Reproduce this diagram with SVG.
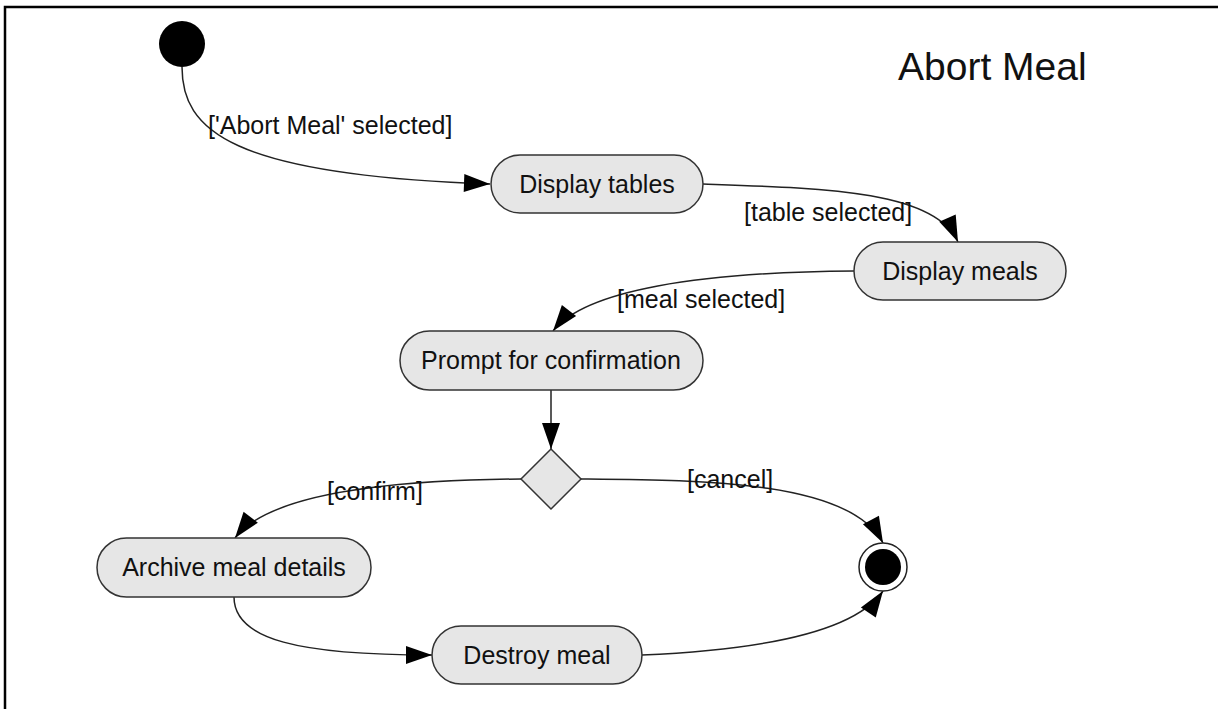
<svg xmlns="http://www.w3.org/2000/svg" width="1218" height="709" viewBox="0 0 1218 709">
<defs>
<style>
.node{fill:#e6e6e6;stroke:#333;stroke-width:1.5}
.lbl{font-family:"Liberation Sans",Arial,sans-serif;font-size:25px;fill:#111}
.ctr{text-anchor:middle}
.edge{fill:none;stroke:#222;stroke-width:1.5}
.title{font-family:"Liberation Sans",Arial,sans-serif;font-size:39px;fill:#111}
</style>
<marker id="arr" markerUnits="userSpaceOnUse" markerWidth="30" markerHeight="22" refX="0" refY="0" viewBox="-28 -11 30 22" orient="auto">
<path d="M0,0 L-26,-9 L-26,9 Z" fill="#000"/>
</marker>
</defs>
<rect width="1218" height="709" fill="#fff"/>
<path d="M5,709 V7 H1218" fill="none" stroke="#000" stroke-width="2.5"/>
<text class="title" x="898" y="80">Abort Meal</text>

<g id="connectors">
<path class="edge" marker-end="url(#arr)" d="M182,67 C182,130 230,175 490,184"/>
<path class="edge" marker-end="url(#arr)" d="M703,184 C820,188 935,190 958,242"/>
<path class="edge" marker-end="url(#arr)" d="M854,271 C700,272 585,290 553,331"/>
<path class="edge" marker-end="url(#arr)" d="M551,390 V449"/>
<path class="edge" marker-end="url(#arr)" d="M521,479 C400,480 270,492 235,538"/>
<path class="edge" marker-end="url(#arr)" d="M581,479 C700,480 850,480 883,543"/>
<path class="edge" marker-end="url(#arr)" d="M234,597 C234,640 300,655 432,655"/>
<path class="edge" marker-end="url(#arr)" d="M642,655 C760,650 855,632 883,591"/>
<text class="lbl" x="208" y="134">['Abort Meal' selected]</text>
<text class="lbl" x="744" y="221">[table selected]</text>
<text class="lbl" x="617" y="308">[meal selected]</text>
<text class="lbl" x="327" y="500">[confirm]</text>
<text class="lbl" x="687" y="488">[cancel]</text>
</g>

<g id="start"><circle cx="182" cy="44" r="23" fill="#000"/></g>
<g id="display-tables"><rect class="node" x="491" y="155" width="212" height="58" rx="29"/><text class="lbl ctr" x="597" y="193">Display tables</text></g>
<g id="display-meals"><rect class="node" x="854" y="242" width="212" height="58" rx="29"/><text class="lbl ctr" x="960" y="280">Display meals</text></g>
<g id="prompt"><rect class="node" x="400" y="331" width="303" height="59" rx="29.5"/><text class="lbl ctr" x="551" y="369">Prompt for confirmation</text></g>
<g id="decision"><polygon class="node" points="551,449 581,479 551,509 521,479"/></g>
<g id="archive"><rect class="node" x="97" y="538" width="274" height="59" rx="29.5"/><text class="lbl ctr" x="234" y="576">Archive meal details</text></g>
<g id="destroy"><rect class="node" x="432" y="626" width="210" height="58" rx="29"/><text class="lbl ctr" x="537" y="664">Destroy meal</text></g>
<g id="final"><circle cx="883" cy="567" r="24" fill="#fff" stroke="#222" stroke-width="1.5"/><circle cx="883" cy="567" r="18" fill="#000"/></g>
</svg>
